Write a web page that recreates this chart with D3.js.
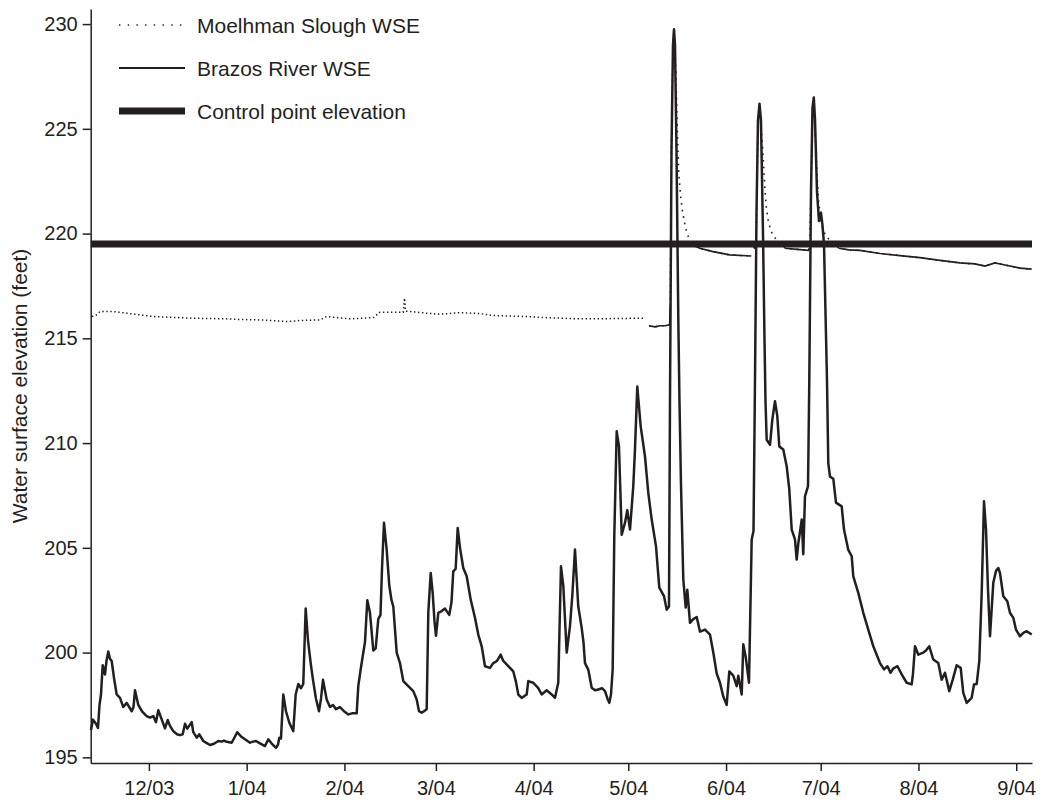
<!DOCTYPE html>
<html>
<head>
<meta charset="utf-8">
<script src="https://cdn.jsdelivr.net/npm/d3@7"></script>
<style>
  body { margin: 0; background: #fff; }
  svg { display: block; font-family: "Liberation Sans", Arial, sans-serif; }
</style>
</head>
<body>
<svg width="1060" height="800"></svg>
<script>
const svg = d3.select("svg"),
  width = +svg.attr("width"),
  height = +svg.attr("height");

const ink = "#231f20";

// Days are counted from 1 Dec 2003
const startDate = new Date(2003, 11, 1);
const dayToDate = d => new Date(startDate.getTime() + d * 864e5);

// Brazos River water surface elevation (feet)
const brazosDay = [
  -18.36, -17.72, -16.77, -16.14, -15.66, -15.19, -14.65, -14.24, -13.92, -13.44,
  -12.87, -12.33, -11.79, -11.07, -10.21, -9.16, -8.12, -7.04, -5.45, -4.88,
  -4.41, -3.36, -2.19, -0.70, 0.35, 1.40, 2.25, 2.98, 3.84, 5.10,
  5.96, 6.69, 7.74, 8.91, 9.86, 10.72, 11.45, 12.18, 13.57, 14.08,
  15.16, 15.98, 17.25, 18.10, 19.37, 20.64, 22.00, 23.08, 23.81, 24.67,
  26.25, 26.98, 28.03, 29.20, 30.47, 32.05, 33.01, 33.96, 35.23, 36.81,
  37.86, 38.94, 40.30, 40.93, 41.34, 41.88, 42.61, 43.47, 44.52, 45.78,
  46.54, 47.37, 48.22, 48.95, 49.71, 50.44, 51.30, 52.03, 52.98, 53.93,
  54.57, 55.20, 56.37, 57.42, 58.37, 59.32, 60.59, 61.86, 63.22, 64.39,
  65.88, 66.39, 67.25, 67.98, 68.52, 69.25, 70.10, 71.15, 71.91, 72.73,
  73.43, 73.91, 74.54, 75.40, 76.22, 76.92, 77.49, 78.57, 79.61, 80.66,
  82.24, 83.83, 84.91, 85.64, 86.49, 87.22, 88.08, 88.59, 89.35, 89.98,
  90.55, 91.03, 91.76, 92.83, 93.88, 95.24, 95.94, 96.51, 97.27, 97.91,
  98.64, 99.68, 100.76, 102.03, 103.39, 104.44, 105.52, 106.56, 108.15, 109.20,
  110.37, 111.54, 112.37, 113.95, 115.54, 116.39, 117.12, 118.20, 119.78, 120.29,
  121.88, 123.46, 124.54, 126.13, 127.71, 128.76, 129.80, 130.66, 131.39, 132.47,
  133.51, 134.24, 135.10, 136.14, 137.22, 137.79, 138.27, 139.31, 140.39, 141.44,
  142.49, 143.66, 144.61, 145.40, 145.98, 146.51, 147.05, 147.56, 148.32, 149.05,
  149.53, 149.91, 150.95, 151.68, 152.54, 153.58, 154.12, 154.85, 155.93, 157.29,
  158.34, 159.42, 160.78, 161.83, 163.32, 164.18, 164.90, 165.22, 165.70, 166.17,
  166.49, 166.81, 167.28, 167.85, 168.23, 168.71, 169.44, 170.20, 170.71, 171.56,
  172.61, 173.69, 174.73, 176.32, 177.90, 178.95, 180.03, 181.07, 182.12, 183.20,
  184.02, 185.29, 186.37, 186.88, 187.96, 188.46, 189.22, 190.27, 191.12, 191.70,
  192.17, 192.65, 193.12, 193.60, 194.07, 194.71, 195.18, 195.50, 195.88, 196.93,
  197.65, 198.51, 199.24, 199.87, 201.14, 202.22, 203.04, 203.81, 204.85, 205.39,
  205.90, 206.98, 207.48, 208.02, 208.98, 209.39, 209.93, 210.40, 210.81, 211.19,
  211.83, 212.46, 213.09, 213.57, 214.05, 215.00, 215.41, 215.95, 217.00, 217.85,
  219.66, 220.39, 221.76, 222.83, 223.34, 224.92, 226.51, 228.09, 229.68, 231.80,
  233.07, 234.18, 235.13, 236.08, 237.35, 238.68, 240.27, 241.85, 242.27, 242.90,
  243.95, 245.53, 246.39, 247.43, 248.70, 250.29, 251.36, 252.41, 253.77, 254.85,
  256.12, 257.39, 258.21, 259.29, 260.87, 261.61, 262.46, 263.29, 264.05, 264.78,
  265.42, 266.05, 266.68, 267.73, 268.59, 269.31, 269.85, 270.90, 272.17, 273.02,
  274.07, 274.92, 276.19, 277.24, 278.31, 279.90
];
const brazosWSE = [
  196.3, 196.8, 196.6, 196.4, 197.5, 198.0, 199.4, 199.2, 198.95, 199.6,
  200.05, 199.7, 199.6, 198.8, 198.0, 197.84, 197.4, 197.6, 197.2, 197.4,
  198.2, 197.5, 197.2, 196.97, 196.9, 196.97, 196.68, 197.25, 196.9, 196.38,
  196.78, 196.5, 196.25, 196.1, 196.06, 196.1, 196.6, 196.37, 196.68, 196.2,
  195.94, 196.1, 195.78, 195.7, 195.59, 195.65, 195.78, 195.75, 195.8, 195.74,
  195.7, 195.9, 196.2, 196.0, 195.86, 195.7, 195.75, 195.78, 195.67, 195.54,
  195.86, 195.66, 195.45, 195.6, 195.93, 195.9, 198.0, 197.2, 196.65, 196.25,
  198.0, 198.5, 198.3, 198.5, 202.1, 200.6, 199.5, 198.7, 197.8, 197.2,
  197.8, 198.7, 197.76, 197.4, 197.5, 197.3, 197.4, 197.2, 197.05, 197.1,
  197.1, 198.4, 199.3, 200.0, 200.5, 202.5, 201.9, 200.1, 200.2, 201.6,
  201.8, 204.0, 206.2, 204.9, 203.2, 202.5, 202.2, 200.0, 199.5, 198.64,
  198.4, 198.16, 197.76, 197.2, 197.13, 197.2, 197.3, 201.9, 203.8, 202.85,
  201.5, 200.8, 201.9, 201.98, 202.1, 201.8, 202.4, 203.88, 204.0, 205.95,
  205.0, 204.04, 203.64, 202.53, 201.66, 200.86, 200.3, 199.35, 199.27, 199.5,
  199.6, 199.9, 199.6, 199.35, 199.1, 198.6, 198.0, 197.84, 198.0, 198.64,
  198.56, 198.3, 198.0, 198.2, 198.0, 197.84, 198.56, 204.12, 203.2, 200.0,
  201.26, 202.7, 204.92, 202.2, 201.18, 200.5, 199.5, 199.19, 198.32, 198.2,
  198.24, 198.3, 198.16, 197.8, 197.6, 198.0, 199.2, 205.55, 210.56, 209.84,
  207.5, 205.63, 206.19, 206.8, 205.87, 207.94, 209.7, 212.7, 210.8, 209.37,
  207.62, 206.35, 205.08, 203.1, 202.7, 202.05, 202.2, 212.0, 224.0, 229.0,
  229.75, 229.0, 224.0, 216.0, 212.0, 208.0, 203.5, 202.15, 203.0, 201.42,
  201.6, 201.7, 201.0, 201.1, 200.86, 200.0, 199.0, 198.56, 197.9, 197.5,
  199.1, 198.9, 198.4, 198.9, 198.0, 200.4, 199.8, 198.56, 205.4, 205.8,
  213.0, 221.0, 225.4, 226.2, 225.4, 220.0, 215.0, 212.0, 210.16, 209.92,
  211.1, 212.0, 211.3, 209.84, 209.69, 208.9, 207.8, 205.87, 205.4, 204.44,
  205.2, 206.35, 204.7, 207.46, 207.94, 213.0, 222.0, 226.0, 226.5, 225.5,
  222.0, 220.6, 221.0, 220.4, 219.5, 213.0, 209.05, 208.4, 208.3, 207.16,
  206.98, 205.87, 204.9, 204.6, 203.64, 202.85, 201.9, 201.1, 200.3, 199.5,
  199.2, 199.35, 199.04, 199.25, 199.35, 198.96, 198.56, 198.48, 199.0, 200.3,
  199.9, 200.0, 200.1, 200.3, 199.67, 199.5, 198.7, 199.04, 198.16, 198.7,
  199.4, 199.27, 198.08, 197.6, 197.84, 198.48, 198.5, 199.6, 202.85, 207.22,
  205.87, 203.0, 200.78, 203.33, 203.9, 204.04, 203.8, 202.69, 202.45, 201.9,
  201.66, 201.1, 200.78, 200.94, 201.02, 200.86
];

// Moelhman Slough water surface elevation (feet), null = break in record
const sloughDay = [
  -18.04, -16.77, -15.50, -11.38, -7.04, 1.40, 14.08, 24.67, 28.88, 35.23,
  38.40, 43.69, 47.91, 54.25, 56.37, 61.64, 63.79, 71.15, 73.27, 80.66,
  81.04, 81.36, 88.08, 92.29, 98.64, 104.97, 109.20, 119.78, 124.01, 130.88,
  136.69, 143.02, 149.37, 157.29, 157.9,
  158.56, 160.46, 162.05, 163.63, 165.12, 165.31, 165.69, 166.17, 166.49, 167.03,
  167.44, 167.76, 168.07, 168.61, 169.12, 169.88, 170.61, 171.47, 172.52, 174.64,
  178.85, 184.15, 191.00, 191.4,
  191.75, 192.49, 192.71, 193.12, 193.60, 194.64, 195.28, 195.72, 196.35, 197.08,
  198.13, 199.21, 201.74, 205.49, 209.13, 209.45, 209.93, 210.40, 210.81, 211.35,
  211.86, 212.40, 212.94, 213.67, 214.52, 215.57, 216.65, 218.74, 221.91, 225.46,
  231.80, 238.14, 244.48, 250.82, 257.17, 261.92, 265.09, 268.26, 271.43, 276.19,
  279.90
];
const sloughWSE = [
  216.04, 216.1, 216.28, 216.28, 216.2, 216.04, 215.96, 215.93, 215.9, 215.88,
  215.85, 215.8, 215.85, 215.88, 216.04, 215.96, 215.93, 215.99, 216.25, 216.25,
  216.92, 216.3, 216.2, 216.15, 216.23, 216.18, 216.09, 216.04, 216.0, 215.96,
  215.93, 215.93, 215.95, 215.96, null,
  215.6, 215.55, 215.6, 215.6, 215.65, 216.5, 224.0, 229.0, 229.7, 227.97,
  225.58, 223.99, 222.72, 221.76, 221.13, 220.49, 220.02, 219.7, 219.46, 219.3,
  219.14, 218.98, 218.93, null,
  219.3, 219.4, 221.0, 225.4, 226.1, 224.0, 222.24, 221.29, 220.65, 220.18,
  219.86, 219.67, 219.3, 219.25, 219.2, 219.3, 222.0, 226.0, 226.4, 224.47,
  222.72, 221.45, 220.81, 220.18, 219.94, 219.73, 219.54, 219.3, 219.22, 219.2,
  219.05, 218.95, 218.85, 218.72, 218.6, 218.55, 218.45, 218.6, 218.5, 218.35,
  218.3
];

const controlElevation = 219.5;

const yTicks = [195, 200, 205, 210, 215, 220, 225, 230];
const legendLabels = ["Moelhman Slough WSE", "Brazos River WSE", "Control point elevation"];
const yTitle = "Water surface elevation (feet)";

const brazos = brazosDay.map((d, i) => ({ day: d, date: dayToDate(d), v: brazosWSE[i] }));
const slough = sloughDay.map((d, i) => ({ day: d, date: dayToDate(d), v: sloughWSE[i] }));

// Scales
const x = d3
  .scaleTime()
  .domain([dayToDate(-18.45), dayToDate(280)])
  .range([90.7, 1032]);

const y = d3.scaleLinear().domain([194.73, 230.72]).range([763, 9]);

// Axes
svg
  .append("g")
  .attr("transform", `translate(0,${y.range()[0]})`)
  .call(
    d3
      .axisBottom(x)
      .ticks(d3.timeMonth.every(1))
      .tickFormat(d3.timeFormat("%-m/%y"))
      .tickSize(8)
      .tickSizeOuter(0)
      .tickPadding(10)
  );

svg
  .append("g")
  .attr("transform", `translate(${x.range()[0]},0)`)
  .call(d3.axisLeft(y).tickValues(yTicks).tickSize(8).tickSizeOuter(0).tickPadding(5));

svg.selectAll(".domain, .tick line").attr("stroke", ink).attr("stroke-width", 1.5);
svg
  .selectAll(".tick text")
  .attr("fill", ink)
  .style("font-size", "20px")
  .style("font-family", '"Liberation Sans", Arial, sans-serif');

svg
  .append("text")
  .attr("transform", `translate(27,${(y.range()[0] + y.range()[1]) / 2}) rotate(-90)`)
  .attr("text-anchor", "middle")
  .attr("fill", ink)
  .style("font-size", "21px")
  .text(yTitle);

// Slough: sparse dots before May, denser record afterwards
const sloughLine = defined => d3.line().defined(defined).x(d => x(d.date)).y(d => y(d.v));

svg
  .append("path")
  .datum(slough)
  .attr("fill", "none")
  .attr("stroke", ink)
  .attr("stroke-width", 1.5)
  .attr("stroke-dasharray", "1.4 2.6")
  .attr("d", sloughLine(d => d.v != null && d.day < 158));

svg
  .append("path")
  .datum(slough)
  .attr("fill", "none")
  .attr("stroke", ink)
  .attr("stroke-width", 1.6)
  .attr("stroke-dasharray", "1.6 5")
  .attr("d", sloughLine(d => d.v != null && d.day >= 158));

svg
  .append("path")
  .datum(slough)
  .attr("fill", "none")
  .attr("stroke", ink)
  .attr("stroke-width", 1.7)
  .attr("d", sloughLine(d => d.v != null && d.day >= 158 && d.v < 219.5));

// Brazos River
svg
  .append("path")
  .datum(brazos)
  .attr("fill", "none")
  .attr("stroke", ink)
  .attr("stroke-width", 2.5)
  .attr("stroke-linejoin", "round")
  .attr("d", d3.line().x(d => x(d.date)).y(d => y(d.v)));

// Control point elevation
svg
  .append("line")
  .attr("x1", x.range()[0])
  .attr("x2", x.range()[1])
  .attr("y1", y(controlElevation))
  .attr("y2", y(controlElevation))
  .attr("stroke", ink)
  .attr("stroke-width", 7);

// Legend
const legendStyles = [
  { width: 1.5, dash: "1.4 7.3" },
  { width: 1.8, dash: null },
  { width: 7, dash: null }
];

const legend = svg
  .append("g")
  .selectAll("g")
  .data(legendLabels)
  .join("g")
  .attr("transform", (d, i) => `translate(0,${25 + i * 43})`);

legend
  .append("line")
  .attr("x1", 119)
  .attr("x2", 185)
  .attr("stroke", ink)
  .attr("stroke-width", (d, i) => legendStyles[i].width)
  .attr("stroke-dasharray", (d, i) => legendStyles[i].dash);

legend
  .append("text")
  .attr("x", 197)
  .attr("dy", "0.36em")
  .attr("fill", ink)
  .style("font-size", "21px")
  .text(d => d);
</script>
</body>
</html>
